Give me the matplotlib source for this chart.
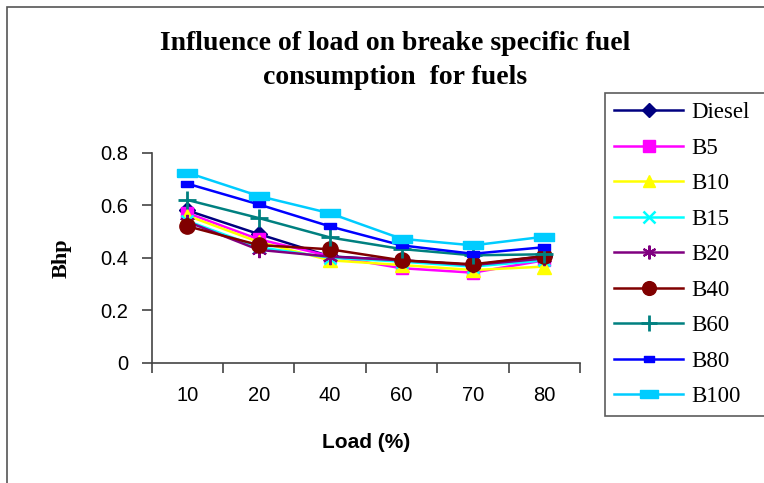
import numpy as np
import matplotlib.pyplot as plt
from matplotlib.patches import Rectangle

loads = ['10', '20', '40', '60', '70', '80']
diesel = [0.58, 0.49, 0.405, 0.39, 0.372, 0.406]
b5 = [0.57, 0.47, 0.406, 0.36, 0.343, 0.39]
b10 = [0.56, 0.46, 0.39, 0.372, 0.353, 0.366]
b15 = [0.54, 0.44, 0.40, 0.385, 0.366, 0.39]
b20 = [0.537, 0.43, 0.404, 0.39, 0.372, 0.397]
b40 = [0.52, 0.448, 0.432, 0.39, 0.375, 0.406]
b60 = [0.62, 0.551, 0.477, 0.433, 0.409, 0.413]
b80 = [0.682, 0.603, 0.519, 0.447, 0.415, 0.44]
b100 = [0.724, 0.635, 0.569, 0.472, 0.447, 0.48]

names = ['Diesel', 'B5', 'B10', 'B15', 'B20', 'B40', 'B60', 'B80', 'B100']
series = [diesel, b5, b10, b15, b20, b40, b60, b80, b100]

wide_rect = [(-1, -0.42), (1, -0.42), (1, 0.42), (-1, 0.42), (-1, -0.42)]
small_rect = [(-1, -0.6), (1, -0.6), (1, 0.6), (-1, 0.6), (-1, -0.6)]
styles = [
    dict(color='#000080', marker='D', ms=8),
    dict(color='#FF00FF', marker='s', ms=9),
    dict(color='#FFFF00', marker='^', ms=10),
    dict(color='#00FFFF', marker='x', ms=9, mew=1.8),
    dict(color='#800080', marker=(6, 2, 0), ms=11, mew=1.5),
    dict(color='#800000', marker='o', ms=11),
    dict(color='#008080', marker='+', ms=13, mew=2),
    dict(color='#0000FF', marker=small_rect, ms=8),
    dict(color='#00CCFF', marker=wide_rect, ms=14),
]

fig = plt.figure(figsize=(7.64, 4.83), dpi=100)
fig.patches.append(Rectangle((7 / 764, -0.1), 1.2, 1 - 7 / 483 + 0.1,
                             transform=fig.transFigure, fill=False,
                             edgecolor='#555555', lw=1.2))
ax = fig.add_axes([151.7 / 764, 1 - 362.7 / 483, (580 - 151.7) / 764,
                   (362.7 - 152.7) / 483])
x = np.arange(len(loads))
for vals, name, st in zip(series, names, styles):
    ax.plot(x, vals, lw=1.8, label=name, **st)

ax.set_xlim(-0.5, len(loads) - 0.5)
ax.set_ylim(0, 0.8)
ax.set_yticks([0, 0.2, 0.4, 0.6, 0.8])
ax.set_yticklabels(['0', '0.2', '0.4', '0.6', '0.8'])
ax.set_xticks(np.arange(-0.5, len(loads), 1), minor=False)
ax.set_xticklabels([])
ax.set_xticks(x, minor=True)
ax.set_xticklabels(loads, minor=True)
ax.tick_params(axis='x', which='minor', length=0, pad=17)
ax.tick_params(axis='x', which='major', length=7, width=1.2, color='#444444')
ax.tick_params(axis='y', length=7, width=1.2, color='#444444', pad=10)
for lbl in ax.get_yticklabels() + ax.get_xticklabels(minor=True):
    lbl.set_fontfamily('Liberation Sans')
    lbl.set_fontsize(14.5)
for s in ['top', 'right']:
    ax.spines[s].set_visible(False)
for s in ['left', 'bottom']:
    ax.spines[s].set_color('#444444')
    ax.spines[s].set_linewidth(1.2)

ax.set_xlabel('Load (%)', fontfamily='Liberation Sans', fontweight='bold',
              fontsize=15)
ax.xaxis.set_label_coords(0.5, -(433 - 362.7) / 210)
ax.set_ylabel('Bhp', fontfamily='Liberation Serif', fontweight='bold',
              fontsize=16, va='center')
ax.yaxis.set_label_coords((62 - 151.7) / 428.3, 0.5)

fig.text(395 / 764, 1 - 44 / 483, 'Influence of load on breake specific fuel',
         ha='center', va='center', fontfamily='Liberation Serif',
         fontweight='bold', fontsize=20)
fig.text(395 / 764, 1 - 77 / 483, 'consumption  for fuels',
         ha='center', va='center', fontfamily='Liberation Serif',
         fontweight='bold', fontsize=20)

leg = fig.legend(loc='upper left',
                 bbox_to_anchor=(605 / 764, 1 - 93 / 483, 0.4, 0),
                 mode='expand',
                 prop={'family': 'Liberation Serif', 'size': 16.5},
                 frameon=True, fancybox=False, edgecolor='black',
                 handlelength=3.0, labelspacing=0.63, borderpad=0.4,
                 handletextpad=0.35, borderaxespad=0, markerscale=0.9)
leg.get_frame().set_linewidth(1.2)
leg.get_frame().set_edgecolor('#333333')

fig.savefig('out.png', dpi=100)
